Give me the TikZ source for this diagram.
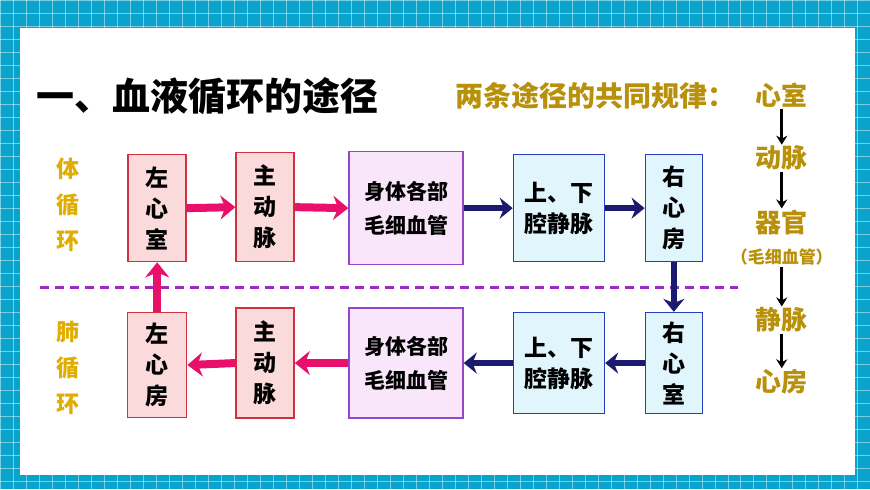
\documentclass[tikz,border=0pt]{standalone}
\usepackage{fontspec}
\setmainfont{Noto Sans CJK SC}
\newfontfamily\cjk{Noto Sans CJK SC}
\usetikzlibrary{arrows.meta}
\definecolor{frame}{HTML}{0AA3CC}
\definecolor{gold}{HTML}{E0AE00}
\definecolor{dgold}{HTML}{B8900A}
\definecolor{pinkA}{HTML}{E8106A}
\definecolor{navyA}{HTML}{1A1A70}
\tikzset{
 x=1pt,y=-1pt,
 redbox/.style={draw={rgb,255:red,208;green,48;blue,64},fill={rgb,255:red,250;green,218;blue,218},line width=1.5pt,inner sep=0,font=\cjk\bfseries\fontsize{23}{31}\selectfont,align=center},
 purbox/.style={draw={rgb,255:red,150;green,70;blue,200},fill={rgb,255:red,250;green,230;blue,250},line width=1.5pt,inner sep=0,font=\cjk\bfseries\fontsize{21}{34}\selectfont,align=center},
 bluebox/.style={draw={rgb,255:red,40;green,60;blue,190},fill={rgb,255:red,224;green,246;blue,252},line width=1.5pt,inner sep=0,font=\cjk\bfseries\fontsize{23}{31}\selectfont,align=center},
 parr/.style={draw=pinkA,line width=8pt,-{Stealth[length=15pt,width=24pt]}},
 narr/.style={draw=navyA,line width=6.5pt,-{Stealth[length=13pt,width=21pt]}},
 side/.style={text=gold,font=\cjk\bfseries\fontsize{23}{36}\selectfont,align=center},
 rlab/.style={text=dgold,font=\cjk\bfseries\fontsize{26}{28}\selectfont,inner sep=1pt},
 barr/.style={draw=black,line width=2.8pt,-{Stealth[length=9pt,width=11pt]}},
}
\begin{document}
\begin{tikzpicture}
\fill[frame] (0,0) rectangle (870,489);
\foreach \i in {0,13,...,870} \draw[white,opacity=0.45,line width=0.6pt] (\i,0)--(\i,489);
\foreach \j in {0,13,...,489} \draw[white,opacity=0.45,line width=0.6pt] (0,\j)--(870,\j);
\fill[white] (20,28) rectangle (855,475);
\useasboundingbox (0,0) rectangle (870,489);
% title
\node[anchor=west,font=\cjk\bfseries\fontsize{38}{38}\selectfont,inner sep=0] (title) at (36,96) {一、血液循环的途径};
\node[anchor=west,text=dgold,font=\cjk\bfseries\fontsize{28}{28}\selectfont,inner sep=0] (rule) at (455,95) {两条途径的共同规律：};
% right column
\node[rlab] (r1) at (782,95) {心室};
\node[rlab] (r2) at (782,158) {动脉};
\node[rlab] (r3) at (782,222) {器官};
\node[rlab,font=\cjk\bfseries\fontsize{17}{17}\selectfont] (r3b) at (782,257) {（毛细血管）};
\node[rlab] (r4) at (782,320) {静脉};
\node[rlab] (r5) at (782,382) {心房};
\draw[barr] (r1) -- (r2);
\draw[barr] (r2) -- (r3);
\draw[barr] (r3b) -- (r4);
\draw[barr] (r4) -- (r5);
% side labels
\node[side] (s1) at (68,205) {体\\循\\环};
\node[side] (s2) at (68,368) {肺\\循\\环};
% dashed line
\coordinate (d1) at (40,287); \coordinate (d2) at (738,287);
\draw[draw={rgb,255:red,160;green,40;blue,200},line width=3pt,dash pattern=on 9pt off 6pt] (d1) -- (d2);
% top row
\node[redbox,minimum width=58pt,minimum height=107pt] (a1) at (157,208) {左\\心\\室};
\node[redbox,minimum width=58pt,minimum height=109pt] (a2) at (265,207) {主\\动\\脉};
\node[purbox,minimum width=114pt,minimum height=113pt] (a3) at (406,208) {身体各部\\毛细血管};
\node[bluebox,minimum width=91pt,minimum height=107pt] (a4) at (559,208) {上、下\\腔静脉};
\node[bluebox,minimum width=57pt,minimum height=107pt] (a5) at (674,208) {右\\心\\房};
% bottom row
\node[redbox,minimum width=59pt,minimum height=105pt] (b1) at (157,365) {左\\心\\房};
\node[redbox,minimum width=58pt,minimum height=110pt] (b2) at (265,363) {主\\动\\脉};
\node[purbox,minimum width=114pt,minimum height=110pt] (b3) at (406,363) {身体各部\\毛细血管};
\node[bluebox,minimum width=91pt,minimum height=101pt] (b4) at (559,363) {上、下\\腔静脉};
\node[bluebox,minimum width=57pt,minimum height=101pt] (b5) at (674,363) {右\\心\\室};
% arrows
\draw[parr] (a1.east) -- (a2.west);
\draw[parr] (a2.east) -- (a3.west);
\draw[narr] (a3.east) -- (a4.west);
\draw[narr] (a4.east) -- (a5.west);
\draw[narr] (a5.south) -- (b5.north);
\draw[narr] (b5.west) -- (b4.east);
\draw[narr] (b4.west) -- (b3.east);
\draw[parr] (b3.west) -- (b2.east);
\draw[parr] (b2.west) -- (b1.east);
\draw[parr] (b1.north) -- (a1.south);
\end{tikzpicture}
\end{document}
